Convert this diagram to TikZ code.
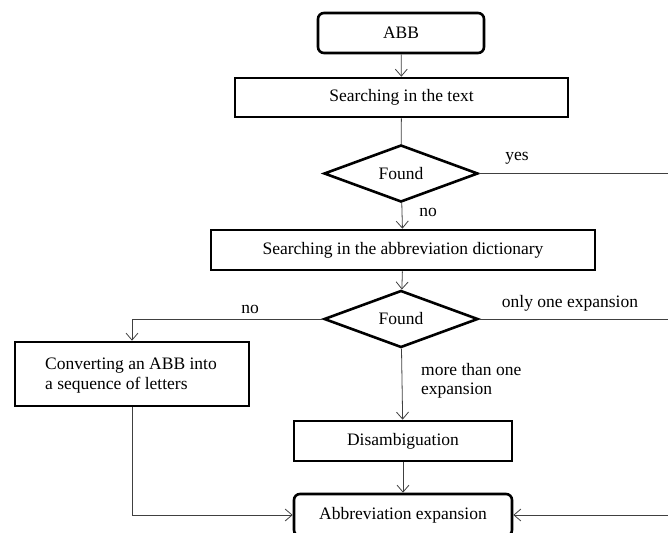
\documentclass[tikz,border=0pt]{standalone}
\usepackage{fontspec}
\setmainfont{Liberation Serif}
\usetikzlibrary{shapes.geometric,arrows.meta}
\tikzset{
	box/.style={draw, line width=2.6pt, minimum width=#1, minimum height=40pt, inner sep=0pt},
	roundbox/.style={box=#1, rounded corners=6pt},
	test/.style={draw, diamond, line width=2.6pt, minimum width=154pt, minimum height=44pt, inner sep=0pt},
	link/.style={draw=black!75, line width=0.8pt, -{Straight Barb[length=7pt,width=12pt]}},
	plain/.style={draw=black!75, line width=0.8pt},
	tag/.style={inner sep=0pt, align=left}
}
\begin{document}
\begin{tikzpicture}[x=1pt, y=-1pt, font=\fontsize{17.5}{19.5}\selectfont]
	\useasboundingbox (0,0) rectangle (668,532);
	\clip (0,0) rectangle (668,532);
	\node[roundbox=166pt] (abb) at (401, 33) {ABB};
	\node[box=333pt, minimum height=39pt] (search) at (401.5, 97.5) {Searching in the text};
	\node[test] (found1) at (401, 173.5) {Found};
	\node[box=384pt] (dict) at (403, 250) {Searching in the abbreviation dictionary};
	\node[test, minimum height=45pt] (found2) at (401, 319) {Found};
	\node[box=234pt, minimum height=64pt] (convert) at (132, 374) {};
	\node[tag, anchor=west] (converttext) at (45, 375.5) {Converting an ABB into\\a sequence of letters};
	\node[box=218pt] (disamb) at (403, 441) {Disambiguation};
	\node[roundbox=218pt, minimum height=42pt] (expand) at (403, 515) {Abbreviation expansion};
	% labels
	\node[tag] (yes) at (517, 158) {yes};
	\node[tag] (no1) at (428, 212) {no};
	\node[tag] (no2) at (250, 309) {no};
	\node[tag] (one) at (570, 303) {only one expansion};
	\node[tag, anchor=west] (more) at (421, 381) {more than one\\expansion};
	% off-page turn on the right
	\coordinate (turn) at (700, 173.5);
	% connectors
	\path[link] (abb) -- (search);
	\path[plain] (search) -- (found1);
	\path[link] (found1) -- (dict);
	\path[link] (dict) -- (found2);
	\path[link] (found2.west) -| (convert.north);
	\path[link] (found2) -- (disamb);
	\path[link] (disamb) -- (expand);
	\path[link] (convert.south) |- (expand.west);
	\path[plain] (found1.east) -- (turn);
	\path[plain] (found2.east) -- (turn |- found2.east);
	\path[link] (turn) |- (expand.east);
\end{tikzpicture}
\end{document}
